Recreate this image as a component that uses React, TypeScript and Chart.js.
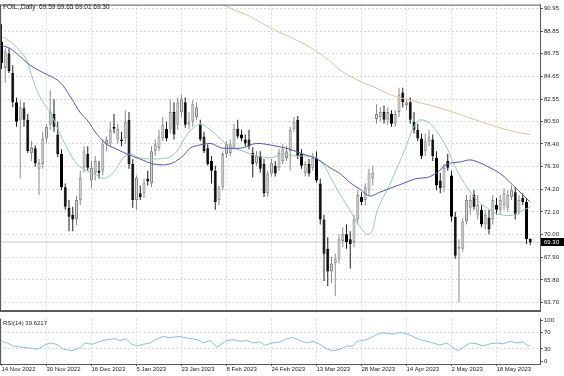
import { useEffect, useRef } from "react";
import { Chart, registerables } from "chart.js";

Chart.register(...registerables);

const FONT = "'Liberation Sans Narrow', 'Liberation Sans', Arial, sans-serif";

// x-axis date labels and the bar index where each one sits
const tickDates = ["14 Nov 2022", "30 Nov 2022", "16 Dec 2022", "5 Jan 2023", "23 Jan 2023", "8 Feb 2023", "24 Feb 2023", "13 Mar 2023", "28 Mar 2023", "14 Apr 2023", "2 May 2023", "18 May 2023"];
const tickBars = [0, 12, 24, 36, 48, 60, 72, 84, 96, 108, 120, 132];

// price axis tick labels
const priceTicks = [90.95, 88.85, 86.75, 84.65, 82.55, 80.5, 78.4, 76.3, 74.2, 72.1, 70.0, 67.9, 65.8, 63.7];
const rsiTicks = [100, 70, 30, 0];

// daily OHLC
const opens = [87.87, 85.43, 86.78, 84.97, 82.26, 80.63, 81.71, 80.63, 77.55, 78.00, 76.10, 76.55, 78.91, 80.17, 81.17, 79.27, 77.46, 74.38, 72.48, 71.85, 71.39, 73.20, 76.19, 77.46, 75.01, 75.65, 75.92, 75.92, 78.36, 78.45, 79.99, 78.82, 78.82, 78.91, 80.63, 76.55, 73.20, 73.84, 73.84, 75.20, 74.74, 77.73, 78.00, 78.91, 79.81, 79.81, 81.35, 80.17, 81.35, 82.26, 80.17, 80.45, 80.90, 80.17, 79.09, 78.00, 76.83, 75.92, 73.20, 74.38, 77.46, 77.55, 78.18, 79.81, 79.27, 78.82, 78.82, 77.55, 76.64, 77.28, 76.55, 73.84, 75.65, 76.37, 76.19, 76.83, 77.10, 77.73, 79.81, 80.63, 77.46, 75.65, 76.55, 76.19, 77.10, 74.74, 71.39, 68.68, 66.59, 67.32, 67.77, 69.40, 70.04, 69.58, 69.31, 71.39, 73.48, 73.20, 74.11, 75.20, 80.72, 80.90, 81.35, 80.63, 81.17, 80.26, 81.35, 83.16, 81.98, 82.26, 80.45, 79.72, 78.91, 77.73, 78.64, 78.82, 77.10, 75.01, 74.38, 76.83, 75.47, 71.66, 68.68, 68.68, 71.21, 72.48, 73.66, 71.85, 72.30, 70.94, 71.57, 71.39, 72.75, 72.30, 72.75, 72.48, 73.48, 73.93, 72.12, 73.39, 73.02, 69.59];
const highs = [89.50, 87.24, 87.24, 85.70, 82.71, 82.44, 82.26, 81.17, 78.64, 78.27, 77.01, 79.54, 80.26, 83.34, 82.53, 80.45, 77.91, 74.74, 73.20, 72.57, 73.57, 75.92, 78.18, 78.18, 76.83, 77.28, 76.83, 78.82, 79.09, 80.45, 81.17, 80.26, 79.54, 81.53, 81.35, 77.01, 75.47, 74.56, 75.20, 75.92, 78.18, 78.82, 79.72, 80.90, 80.45, 82.53, 82.26, 82.71, 82.98, 82.71, 81.35, 82.44, 82.26, 80.63, 79.54, 78.36, 77.28, 76.37, 74.56, 77.73, 78.64, 78.82, 80.26, 80.63, 79.72, 79.27, 79.72, 78.09, 77.73, 77.73, 77.01, 75.92, 77.01, 76.83, 77.91, 78.36, 78.18, 79.99, 80.90, 80.99, 77.91, 76.83, 77.01, 77.55, 77.73, 75.20, 71.85, 69.76, 67.95, 68.22, 70.04, 70.67, 70.94, 70.31, 71.85, 74.11, 73.93, 74.74, 76.10, 76.37, 82.07, 81.80, 81.98, 81.80, 81.53, 81.53, 83.61, 83.61, 82.62, 82.71, 81.35, 80.26, 79.36, 79.36, 79.72, 79.27, 77.73, 75.74, 76.55, 77.46, 75.92, 72.12, 69.58, 71.57, 73.66, 73.66, 74.11, 73.66, 72.75, 72.30, 72.30, 73.66, 73.39, 73.66, 74.29, 74.11, 74.56, 74.38, 73.66, 73.84, 73.39, 69.65];
const lows = [85.34, 84.07, 84.97, 81.80, 79.99, 75.20, 79.99, 77.55, 76.83, 76.28, 73.66, 76.10, 78.45, 79.72, 79.54, 77.19, 74.11, 72.30, 70.31, 70.31, 70.85, 72.75, 75.74, 75.92, 74.29, 75.01, 75.20, 75.47, 77.73, 78.09, 79.36, 78.45, 78.18, 78.45, 76.10, 72.48, 72.30, 73.20, 73.39, 74.56, 74.38, 77.28, 77.73, 78.64, 78.64, 79.36, 78.82, 79.72, 80.90, 79.90, 79.81, 79.99, 80.63, 78.64, 77.55, 76.37, 74.74, 72.30, 72.75, 74.11, 77.10, 77.28, 77.91, 78.91, 78.64, 78.18, 77.91, 75.29, 76.37, 75.74, 73.48, 73.48, 75.38, 75.38, 75.92, 76.55, 76.83, 75.92, 79.54, 77.01, 76.10, 75.38, 75.38, 75.92, 74.83, 70.94, 65.69, 65.24, 65.51, 64.33, 67.32, 68.86, 68.68, 66.87, 68.86, 70.94, 72.75, 72.75, 73.66, 74.56, 80.26, 80.45, 80.26, 80.17, 79.99, 79.99, 80.90, 81.80, 81.53, 80.26, 79.36, 78.64, 77.01, 77.28, 78.18, 76.83, 74.11, 73.84, 73.93, 75.92, 71.21, 67.77, 63.70, 68.41, 70.94, 71.85, 72.30, 71.39, 70.67, 70.49, 70.04, 70.94, 71.85, 71.85, 72.30, 72.12, 73.20, 71.39, 71.85, 72.75, 69.13, 69.01];
const closes = [85.88, 86.97, 85.15, 82.26, 80.45, 81.80, 80.63, 77.73, 78.09, 76.64, 76.64, 78.91, 79.99, 81.35, 79.99, 77.46, 74.38, 72.57, 71.66, 71.39, 73.20, 75.29, 77.73, 76.19, 76.19, 76.83, 75.74, 78.36, 78.82, 79.72, 79.81, 79.81, 78.64, 80.45, 76.55, 73.20, 75.29, 73.48, 74.83, 74.92, 77.73, 78.36, 79.09, 80.17, 78.91, 81.35, 79.27, 82.26, 82.53, 80.17, 80.45, 82.07, 81.80, 78.82, 77.73, 76.55, 75.92, 73.02, 74.38, 77.46, 78.36, 78.36, 79.81, 79.09, 78.91, 78.45, 78.18, 76.55, 77.28, 76.10, 73.84, 75.65, 76.64, 75.65, 77.55, 77.91, 77.73, 79.72, 80.45, 77.28, 76.37, 76.55, 75.65, 77.10, 75.01, 71.39, 68.22, 66.59, 67.32, 67.77, 69.58, 70.04, 69.31, 69.13, 71.39, 73.66, 73.02, 74.38, 75.65, 75.74, 81.17, 81.35, 80.63, 81.35, 80.26, 81.17, 82.98, 82.26, 82.26, 80.63, 79.72, 78.91, 77.28, 78.64, 79.09, 77.28, 74.56, 74.29, 76.19, 76.19, 71.66, 68.04, 68.86, 71.21, 73.20, 73.20, 72.57, 72.75, 70.94, 71.85, 70.49, 73.20, 72.30, 73.20, 73.84, 73.66, 74.11, 71.85, 73.20, 73.02, 69.58, 69.30];

// moving averages: [bar, price]
const slowMA = [[57, 91.67], [61.7, 90.86], [66.3, 90.22], [70.8, 89.32], [75.1, 88.59], [79.6, 87.87], [84.1, 86.96], [86.8, 86.3], [90.3, 85.24], [94.8, 84.34], [100.9, 83.43], [103.6, 82.98], [108.9, 82.44], [114.3, 81.99], [119.6, 81.44], [124.9, 80.81], [130.3, 80.17], [135.6, 79.63], [141, 79.27]];
const midMA = [[0, 87.51], [2.3, 87.24], [4.9, 86.51], [7.6, 85.70], [10.3, 85.15], [12.9, 84.70], [14.8, 84.34], [16.4, 83.80], [18.8, 82.53], [20.9, 81.35], [22.8, 80.63], [25.5, 79.27], [28.1, 78.36], [30.8, 77.91], [33.5, 77.46], [36.9, 77.01], [40.4, 76.55], [43.1, 76.46], [45.7, 76.64], [48.4, 77.30], [50.3, 78.00], [52.9, 78.30], [55.6, 78.45], [59.1, 78.00], [63.6, 78.00], [68.1, 78.45], [73.5, 78.18], [76.9, 77.91], [80.4, 77.46], [84.1, 77.01], [87.6, 76.19], [90.3, 75.65], [92.9, 74.83], [95.6, 74.20], [98.3, 73.57], [100.9, 73.93], [103.6, 74.29], [107.1, 74.74], [110.8, 75.20], [113.5, 75.29], [116.1, 75.74], [118.8, 76.55], [120.1, 76.64], [122.3, 76.73], [124.9, 76.92], [127.6, 76.64], [130.3, 76.19], [133.7, 75.47], [136.4, 74.56], [139.1, 73.66], [141, 73.02]];
const fastMA = [[0.4, 88.32], [2.3, 87.87], [4.9, 87.06], [6.8, 86.06], [8.4, 84.34], [9.7, 83.16], [11.1, 82.26], [12.9, 81.35], [15.1, 79.72], [17.5, 78.00], [20.1, 76.55], [22.8, 75.92], [25.5, 75.47], [27.1, 75.20], [28.9, 75.47], [30.8, 76.19], [32.4, 77.10], [34.3, 77.46], [36.9, 77.10], [40.4, 77.01], [44.1, 77.10], [46.8, 77.73], [49.5, 79.30], [51.6, 79.99], [52.9, 80.26], [55.6, 79.72], [58.3, 78.91], [60.9, 78.18], [64.4, 77.73], [68.1, 77.28], [71.6, 77.10], [75.1, 77.46], [78.8, 77.28], [82.3, 77.28], [85.7, 76.55], [87.6, 75.40], [90.3, 73.70], [92.9, 72.30], [94.8, 71.12], [96.1, 70.49], [97.5, 70.04], [98.8, 70.31], [100.1, 72.12], [102.8, 74.11], [105.5, 76.19], [108.1, 78.36], [109.7, 79.81], [111.6, 80.63], [113.7, 80.45], [116.1, 79.54], [118.8, 78.00], [121.5, 75.92], [124.1, 74.38], [126.8, 73.20], [129.5, 72.48], [132.1, 71.94], [135.6, 71.76], [138.3, 72.12], [141, 72.57]];

// RSI(14): [bar, value]
const rsiLine = [[0, 48.8], [1.5, 44.9], [3.1, 37.2], [4.9, 34.9], [6.8, 33.3], [8.4, 30.9], [9.7, 29.5], [11.1, 37.2], [12.9, 44.9], [14.8, 41.2], [16.4, 29.5], [18.8, 25.6], [20.9, 33.3], [22.3, 44.9], [24.1, 41.2], [26.3, 48.8], [28.1, 52.8], [30.3, 55.1], [31.6, 50.5], [33.2, 55.1], [34.8, 41.2], [36.1, 37.2], [37.7, 41.2], [39.6, 44.9], [41.5, 55.1], [43.1, 60.5], [44.9, 58.1], [47.6, 60.5], [49.5, 56.5], [51.1, 55.1], [52.9, 50.5], [53.7, 44.9], [55.6, 50.5], [57.5, 34.9], [59.1, 44.9], [60.1, 50.5], [61.7, 52.8], [63.6, 48.8], [65.5, 50.5], [67.1, 44.9], [68.9, 47.2], [70.3, 38.8], [72.1, 44.9], [74.3, 47.2], [76.1, 55.1], [77.7, 58.1], [79.6, 50.5], [81.5, 44.9], [83.1, 48.8], [84.9, 41.2], [86.8, 29.5], [88.4, 25.6], [90.3, 29.5], [92.1, 37.2], [93.7, 37.2], [94.8, 48.8], [96.4, 50.5], [98.3, 56.5], [100.1, 65.8], [101.7, 69.8], [104.4, 66.7], [106.3, 70.5], [108.1, 67.4], [109.7, 60.5], [111.6, 52.8], [113.5, 48.8], [115.1, 44.9], [116.9, 39.5], [118.8, 44.9], [120.4, 33.3], [121.7, 25.6], [123.1, 33.3], [124.9, 44.9], [126.8, 42.6], [128.4, 37.2], [130.3, 42.6], [132.1, 44.9], [133.7, 42.6], [135.6, 48.8], [137.5, 44.9], [139.1, 47.2], [140.4, 37.2], [141, 39.62]];

const symbolLabel = "FOIL,,Daily";
const rsiLabel = "RSI(14) 39.6217";

const X_MIN = -0.4;
const X_MAX = 143.6;
const GRID = "#dadada";

export default function App() {
  const mainRef = useRef<HTMLCanvasElement>(null);
  const rsiRef = useRef<HTMLCanvasElement>(null);

  useEffect(() => {
    Chart.defaults.font.family = FONT;
    const n = closes.length;
    const last = n - 1;
    const lastClose = closes[last];
    const bull = closes.map((c, i) => c >= opens[i]);

    const wicks = highs.map((h, i) => ({ x: i, y: [lows[i], h] }));
    const bodies = opens.map((o, i) => ({ x: i, y: [o, closes[i]] }));
    const toXY = (arr: number[][]) => arr.map(([x, y]) => ({ x, y }));

    const titleText = `${symbolLabel}  ${opens[last].toFixed(2)} ${highs[last].toFixed(2)} ${lows[last].toFixed(2)} ${closes[last].toFixed(2)}`;

    const mainDecor = {
      id: "mainDecor",
      afterDraw(chart: any) {
        const { ctx, chartArea: a, scales } = chart;
        ctx.save();
        ctx.strokeStyle = "#5a5a5a";
        ctx.lineWidth = 1;
        ctx.beginPath();
        ctx.moveTo(a.left, a.top + 0.5);
        ctx.lineTo(a.right, a.top + 0.5);
        ctx.moveTo(a.left + 0.5, a.top);
        ctx.lineTo(a.left + 0.5, a.bottom);
        ctx.stroke();
        ctx.font = `6.5px ${FONT}`;
        ctx.textBaseline = "middle";
        ctx.textAlign = "left";
        ctx.fillStyle = "#1a1a1a";
        ctx.fillText(titleText, 3, 7);
        const y = Math.round(scales.y.getPixelForValue(lastClose));
        ctx.fillStyle = "#000";
        ctx.fillRect(541, y - 4, 23, 8);
        ctx.fillStyle = "#fff";
        ctx.font = `6px ${FONT}`;
        ctx.fillText(lastClose.toFixed(2), 544, y + 0.5);
        ctx.restore();
      },
    };

    const rsiDecor = {
      id: "rsiDecor",
      afterDraw(chart: any) {
        const { ctx, chartArea: a } = chart;
        ctx.save();
        ctx.strokeStyle = "#5a5a5a";
        ctx.lineWidth = 1;
        ctx.beginPath();
        ctx.moveTo(a.left + 0.5, a.top);
        ctx.lineTo(a.left + 0.5, a.bottom);
        ctx.stroke();
        ctx.font = `6px ${FONT}`;
        ctx.textBaseline = "middle";
        ctx.textAlign = "left";
        ctx.fillStyle = "#1a1a1a";
        ctx.fillText(rsiLabel, 3, a.top + 4.5);
        ctx.restore();
      },
    };

    const main = new Chart(mainRef.current as HTMLCanvasElement, {
      type: "line",
      data: {
        datasets: [
          { type: "line", label: "MA slow", data: toXY(slowMA), borderColor: "#d9c4a6", borderWidth: 1, pointRadius: 0, cubicInterpolationMode: "monotone", order: 0 } as any,
          { type: "line", label: "MA mid", data: toXY(midMA), borderColor: "#5252c6", borderWidth: 1, pointRadius: 0, cubicInterpolationMode: "monotone", order: 0 } as any,
          { type: "line", label: "MA fast", data: toXY(fastMA), borderColor: "#96ccae", borderWidth: 1, pointRadius: 0, cubicInterpolationMode: "monotone", order: 0 } as any,
          { type: "bar", label: "Bodies", data: bodies, backgroundColor: bull.map((b) => (b ? "#d6d6d6" : "#000")), borderColor: bull.map((b) => (b ? "#8a8a8a" : "#000")), borderWidth: 1, borderSkipped: false, barThickness: 3, grouped: false, minBarLength: 1, inflateAmount: 0, order: 1 } as any,
          { type: "bar", label: "Wicks", data: wicks, backgroundColor: bull.map((b) => (b ? "#8a8a8a" : "#1e1e1e")), borderWidth: 0, barThickness: 1, grouped: false, inflateAmount: 0, order: 2 } as any,
          { type: "line", label: "Last", data: [{ x: X_MIN, y: lastClose }, { x: X_MAX, y: lastClose }], borderColor: "#c8c8c8", borderWidth: 1, pointRadius: 0, order: 3 } as any,
        ],
      },
      options: {
        responsive: false,
        animation: false,
        events: [],
        layout: { padding: 0 },
        plugins: { legend: { display: false }, tooltip: { enabled: false }, title: { display: false } },
        scales: {
          x: {
            type: "linear", min: X_MIN, max: X_MAX, offset: false, position: "bottom",
            afterBuildTicks: (s: any) => { s.ticks = tickBars.map((v) => ({ value: v })); },
            afterFit: (s: any) => { s.height = 2; },
            ticks: { display: false },
            grid: { color: GRID, lineWidth: 1, drawTicks: false, offset: false },
            border: { display: true, color: "#5a5a5a", width: 2, dash: [2, 2] },
          },
          y: {
            type: "linear", position: "right", min: 62.884, max: 91.31,
            afterBuildTicks: (s: any) => { s.ticks = priceTicks.map((v) => ({ value: v })); },
            afterFit: (s: any) => { s.width = 24; },
            ticks: { autoSkip: false, padding: 1, color: "#222", font: { size: 6, family: FONT }, callback: (v: any) => Number(v).toFixed(2) },
            grid: { color: GRID, drawTicks: true, tickLength: 3, tickColor: "#5a5a5a", tickBorderDash: [] },
            border: { display: true, color: "#5a5a5a", width: 1, dash: [2, 2] },
          },
        },
      } as any,
      plugins: [mainDecor],
    });

    const rsi = new Chart(rsiRef.current as HTMLCanvasElement, {
      type: "line",
      data: {
        datasets: [
          { label: "RSI(14)", data: toXY(rsiLine), borderColor: "#86bfea", borderWidth: 1, pointRadius: 0, tension: 0 },
        ],
      },
      options: {
        responsive: false,
        animation: false,
        events: [],
        layout: { padding: { top: 2, left: 0, right: 0, bottom: 0 } },
        plugins: { legend: { display: false }, tooltip: { enabled: false } },
        scales: {
          x: {
            type: "linear", min: X_MIN, max: X_MAX, offset: false, position: "bottom",
            afterBuildTicks: (s: any) => { s.ticks = tickBars.map((v) => ({ value: v })); },
            afterFit: (s: any) => { s.height = 12; },
            ticks: { autoSkip: false, maxRotation: 0, minRotation: 0, align: "start", padding: 0, color: "#222", font: { size: 6, family: FONT }, callback: (_v: any, i: number) => tickDates[i] },
            grid: { color: GRID, drawTicks: true, tickLength: 2, tickColor: "#5a5a5a", tickBorderDash: [], offset: false },
            border: { display: true, color: "#5a5a5a", width: 1, dash: [2, 2] },
          },
          y: {
            type: "linear", position: "right", min: -6.98, max: 104.65,
            afterBuildTicks: (s: any) => { s.ticks = rsiTicks.map((v) => ({ value: v })); },
            afterFit: (s: any) => { s.width = 24; },
            ticks: { autoSkip: false, padding: 1, color: "#222", font: { size: 6, family: FONT } },
            grid: {
              color: (c: any) => (c.tick && (c.tick.value === 70 || c.tick.value === 30) ? GRID : "rgba(0,0,0,0)"),
              drawTicks: true, tickLength: 3, tickColor: "#5a5a5a", tickBorderDash: [],
            },
            border: { display: true, color: "#5a5a5a", width: 1, dash: [2, 2] },
          },
        },
      } as any,
      plugins: [rsiDecor],
    });

    return () => {
      main.destroy();
      rsi.destroy();
    };
  }, []);

  return (
    <div style={{ position: "fixed", left: 0, top: 0, width: 564, height: 376, background: "#fff", overflow: "hidden" }}>
      <canvas ref={mainRef} width={564} height={316} style={{ position: "absolute", left: 0, top: 0 }} />
      <canvas ref={rsiRef} width={564} height={62} style={{ position: "absolute", left: 0, top: 314 }} />
    </div>
  );
}
